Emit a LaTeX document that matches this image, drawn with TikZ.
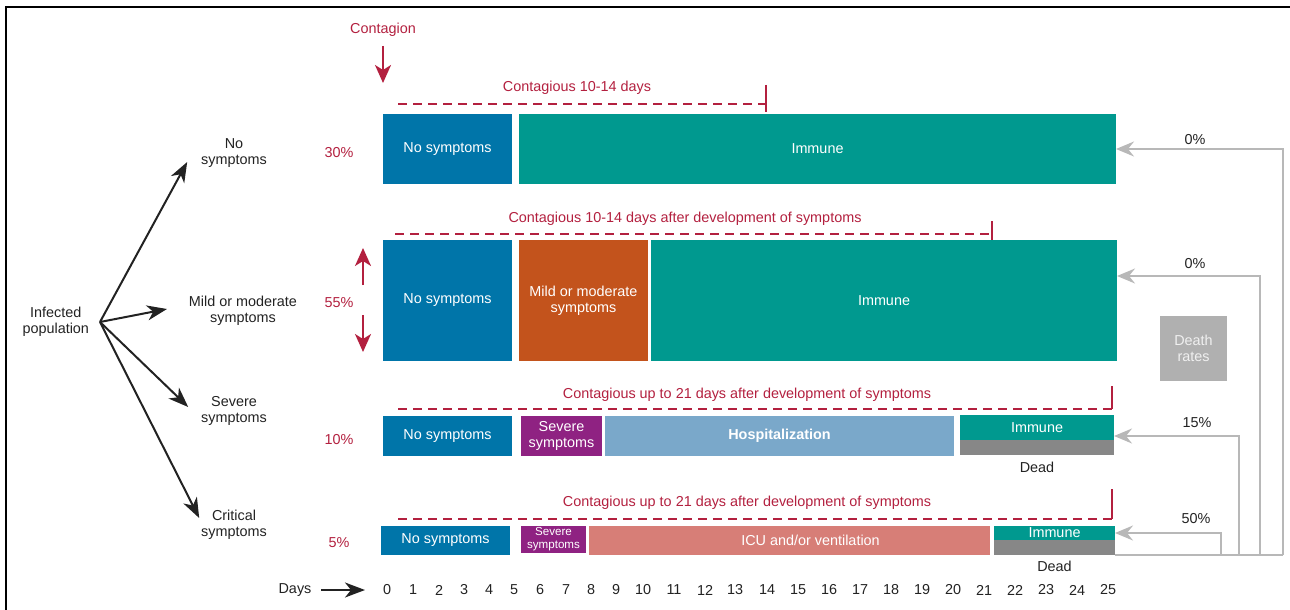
\documentclass[tikz,border=0pt]{standalone}
\usepackage{fontspec}
\setmainfont{Liberation Sans}
\usetikzlibrary{arrows.meta,positioning}
\definecolor{cred}{HTML}{B3203F}
\definecolor{cblue}{HTML}{0075A9}
\definecolor{cteal}{HTML}{00998F}
\definecolor{corange}{HTML}{C3531C}
\definecolor{cpurple}{HTML}{8F2282}
\definecolor{clight}{HTML}{7AA8CA}
\definecolor{csalmon}{HTML}{D77E77}
\definecolor{cdead}{HTML}{878787}
\definecolor{cdeath}{HTML}{B0B0B0}
\definecolor{cline}{HTML}{B8B8B8}
\definecolor{ctext}{HTML}{222222}
\begin{document}
\begin{tikzpicture}[x=0.5pt,y=-0.5pt,
    every node/.style={font=\fontsize{7.2}{8}\selectfont, align=center, inner sep=0pt, outer sep=0pt, text=ctext},
    bar/.style={anchor=north west, text=white},
    wh/.style 2 args={minimum width=#1*0.5pt, minimum height=#2*0.5pt},
    pct/.style={text=cred},
    tree/.style={-{Stealth[length=10pt,width=7.5pt,inset=3pt]}, line width=1pt, ctext},
    redarr/.style={-{Stealth[length=9pt,width=8pt,inset=2.5pt]}, line width=1pt, cred},
    back/.style={-{Stealth[length=9pt,width=7.5pt,inset=3pt]}, line width=0.9pt, cline},
    contline/.style={cred, line width=1pt, dash pattern=on 4.5pt off 3pt},
    spanend/.style={cred, line width=1pt}]
  \useasboundingbox (0,0) rectangle (1290,610);
  \draw[line width=1pt] (6,610) -- (6,7) -- (1290,7);

  % who gets what
  \coordinate (fork) at (100,322);
  \node[left=5.5pt of fork] (inf) {Infected\\population};
  \node (nosym) at (234,153) {No\\symptoms};
  \node (mild) at (243,311) {Mild or moderate\\symptoms};
  \node (severe) at (234,411) {Severe\\symptoms};
  \node (crit) at (234,525) {Critical\\symptoms};
  \draw[tree] (fork) -- ([xshift=-7pt,yshift=-4.5pt]nosym.west);
  \draw[tree] (fork) -- ([xshift=-11pt,yshift=1pt]mild.west);
  \draw[tree] (fork) -- ([xshift=-6.5pt,yshift=2pt]severe.west);
  \draw[tree] (fork) -- ([xshift=-1pt,yshift=3.5pt]crit.west);

  \node[pct] (p30) at (339,153) {30\%};
  \node[pct] (p55) at (339,303) {55\%};
  \node[pct] (p10) at (339,440) {10\%};
  \node[pct] (p5) at (339,543) {5\%};
  \draw[redarr] (363,285) -- (363,248);
  \draw[redarr] (363,315) -- (363,352);

  % no symptoms
  \node[bar, fill=cblue, wh={129}{70}] (nosym1) at (383,114) {No symptoms};
  \node[bar, fill=cteal, wh={597}{70}] (imm1) at (519,114) {Immune};
  % mild or moderate
  \node[bar, fill=cblue, wh={129}{121}] (nosym2) at (383,240) {No symptoms};
  \node[bar, fill=corange, wh={129}{121}] (mild2) at (519,240) {Mild or moderate\\symptoms};
  \node[bar, fill=cteal, wh={466}{121}] (imm2) at (651,240) {Immune};
  % severe
  \node[bar, fill=cblue, wh={129}{40}] (nosym3) at (383,416) {No symptoms};
  \node[bar, fill=cpurple, wh={81}{40}] (sev3) at (521,416) {Severe\\symptoms};
  \node[bar, fill=clight, wh={349}{40}] (hosp) at (605,416) {\textbf{Hospitalization}};
  \node[bar, fill=cteal, wh={154}{25}] (imm3) at (960,415) {Immune};
  \node[bar, fill=cdead, wh={154}{15}] (dead3) at (960,440) {};
  \node[below=3.5pt of dead3] (dl3) {Dead};
  % critical
  \node[bar, fill=cblue, wh={129}{29}] (nosym4) at (381,526) {No symptoms};
  \node[bar, fill=cpurple, wh={65}{27}, font=\fontsize{5.8}{6.5}\selectfont] (sev4) at (521,526) {Severe\\symptoms};
  \node[bar, fill=csalmon, wh={401}{29}] (icu) at (589,526) {\hspace*{21pt}ICU and/or ventilation};
  \node[bar, fill=cteal, wh={121}{14}] (imm4) at (994,526) {Immune};
  \node[bar, fill=cdead, wh={121}{15}] (dead4) at (994,540) {};
  \node[below=3pt of dead4] (dl4) {Dead};

  % contagious spans
  \node[pct] (c1) at (577,88) {Contagious 10-14 days};
  \draw[contline] (398,104) -- (766,104);
  \draw[spanend] (766,85) -- (766,112);
  \node[pct] (c2) at (685,219) {Contagious 10-14 days after development of symptoms};
  \draw[contline] (395,234) -- (992,234);
  \draw[spanend] (992,221) -- (992,240);
  \node[pct] (c3) at (747,395) {Contagious up to 21 days after development of symptoms};
  \draw[contline] (398,409) -- (1112,409);
  \draw[spanend] (1112,386) -- (1112,409);
  \node[pct] (c4) at (747,503) {Contagious up to 21 days after development of symptoms};
  \draw[contline] (398,519) -- (1112,519);
  \draw[spanend] (1112,489) -- (1112,519);

  \node[pct] (contagion) at (383,30) {Contagion};
  \draw[redarr] ([yshift=-4.6pt]contagion.south) -- ([yshift=15.5pt]nosym1.north west);

  % death rates
  \node[bar, fill=cdeath, wh={67}{65}, text=white!94!black] (death) at (1160,316) {Death\\rates};
  \coordinate (g1) at (1283,555);
  \coordinate (g2) at (1260,555);
  \coordinate (g3) at (1239,555);
  \coordinate (g4) at (1221,555);
  \draw[cline, line width=0.9pt] (dead4.south east) -- (g1);
  \draw[back] (g1) |- (imm1.east);
  \draw[back] (g2) |- ([yshift=12.25pt]imm2.east);
  \draw[back] (g3) |- ([yshift=2pt]imm3.south east);
  \draw[back] (g4) |- (imm4.east);
  \node (r1) at (1195,140) {0\%};
  \node (r2) at (1195,264) {0\%};
  \node (r3) at (1197,423) {15\%};
  \node (r4) at (1196,519) {50\%};

  % days
  \foreach \d/\x in {0/387,1/413,2/439,3/464,4/489,5/514,6/540,7/566,8/591,9/616,10/643,11/674,12/705,13/735,14/767,15/798,16/829,17/860,18/891,19/922,20/953,21/984,22/1015,23/1046,24/1077,25/1108}
    \node (d\d) at (\x,590) {\d};
  \node (days) at (295,590) {Days};
  \draw[tree] ([xshift=5pt]days.east) -- ([xshift=-9pt]d0.west);
\end{tikzpicture}
\end{document}
